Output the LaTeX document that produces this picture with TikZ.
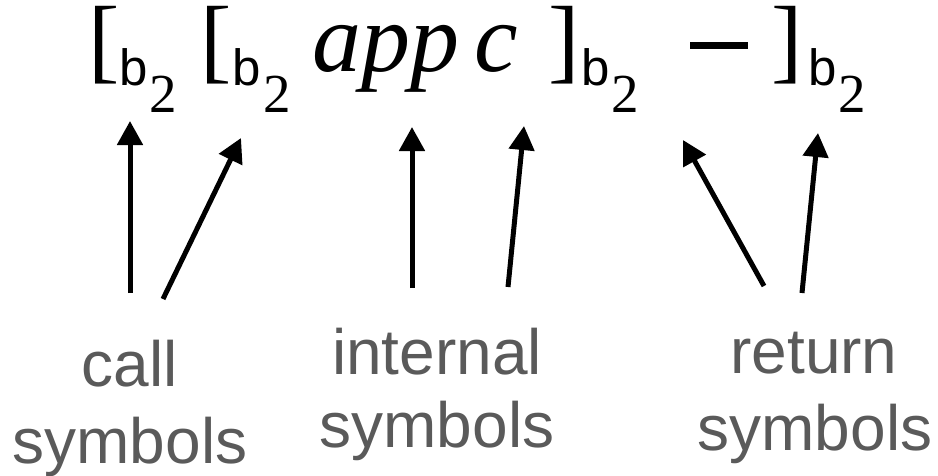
\documentclass[tikz,border=0pt]{standalone}
\usepackage{fontspec}
\setmainfont{Liberation Serif}
\newfontfamily\labelfont{Liberation Sans}
\usetikzlibrary{arrows.meta}
\definecolor{labelgray}{HTML}{5A5A5A}
\tikzset{
  glyph/.style={inner sep=0pt, anchor=base, font=\fontsize{94}{96}\selectfont},
  subb/.style={inner sep=0pt, anchor=base, font=\labelfont\fontsize{51}{53}\selectfont},
  subtwo/.style={inner sep=0pt, anchor=base, font=\fontsize{55}{57}\selectfont},
  lbl/.style={inner sep=0pt, anchor=base, text=labelgray, font=\labelfont\fontsize{64}{70}\selectfont},
  pointer/.style={line width=5pt, -{Triangle[length=24pt,width=25pt]}}
}
\begin{document}
\begin{tikzpicture}[x=1pt,y=-1pt]
\path[use as bounding box] (0,0) rectangle (938,475);
% formula
\node[glyph] (ob1) at (104,71) {[};
\node[subb] (b1) at (134,85) {b};
\node[subtwo] (t1) at (163,112) {2};
\node[glyph] (ob2) at (216,71) {[};
\node[subb] (b2) at (247,85) {b};
\node[subtwo] (t2) at (277.5,112) {2};
\node[glyph, font=\fontsize{98}{100}\selectfont] (app) at (386,71) {\itshape app};
\node[glyph, font=\fontsize{98}{100}\selectfont] (c) at (496,71) {\itshape c};
\node[glyph] (cb1) at (564,71) {]};
\node[subb] (b3) at (596,85) {b};
\node[subtwo] (t3) at (625,112) {2};
\node[inner sep=0pt, anchor=base] (minus) at (719,71) {\rule[22pt]{58pt}{7pt}};
\node[glyph] (cb2) at (787.5,71) {]};
\node[subb] (b4) at (822.5,85) {b};
\node[subtwo] (t4) at (852,112) {2};
% labels
\node[lbl] (call) at (130,386) {call};
\node[lbl] (callsym) at (130,463) {symbols};
\node[lbl] (internal) at (437,374) {internal};
\node[lbl] (internalsym) at (437,447) {symbols};
\node[lbl] (return) at (814,373) {return};
\node[lbl] (returnsym) at (815,450) {symbols};
% arrow ends
\coordinate (s1) at (130,293); \coordinate (e1) at (130,121);
\coordinate (s2) at (163,299); \coordinate (e2) at (241,138);
\coordinate (s3) at (412,288); \coordinate (e3) at (412,127);
\coordinate (s4) at (508,287); \coordinate (e4) at (524,126);
\coordinate (s5) at (764,286); \coordinate (e5) at (683,140);
\coordinate (s6) at (802,293); \coordinate (e6) at (818,133);
\draw[pointer] (s1) -- (e1);
\draw[pointer] (s2) -- (e2);
\draw[pointer] (s3) -- (e3);
\draw[pointer] (s4) -- (e4);
\draw[pointer] (s5) -- (e5);
\draw[pointer] (s6) -- (e6);
\end{tikzpicture}
\end{document}
